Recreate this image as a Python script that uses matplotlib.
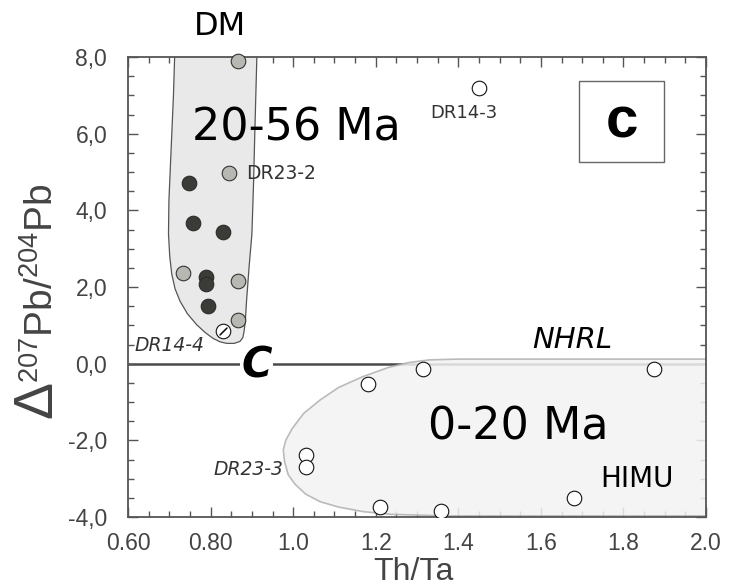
import matplotlib
matplotlib.use('Agg')
import matplotlib.pyplot as plt
from matplotlib.patches import Polygon, Rectangle
from matplotlib.ticker import MultipleLocator, FixedLocator

plt.rcParams['font.family'] = ['Liberation Sans', 'DejaVu Sans']
plt.rcParams['mathtext.fontset'] = 'custom'
plt.rcParams['mathtext.rm'] = 'Liberation Sans'
plt.rcParams['mathtext.it'] = 'Liberation Sans:italic'

# samples 20-56 Ma (dark filled and grey filled)
dark_x = [0.748, 0.758, 0.831, 0.789, 0.789, 0.793]
dark_y = [4.71, 3.66, 3.44, 2.26, 2.08, 1.51]
gray_x = [0.866, 0.845, 0.732, 0.866, 0.866]
gray_y = [7.9, 4.97, 2.37, 2.15, 1.15]
# DR14-4 (open with slash)
dr144_x = [0.829]
dr144_y = [0.84]
# samples 0-20 Ma (open)
open_x = [1.45, 1.315, 1.875, 1.18, 1.03, 1.03, 1.21, 1.357, 1.681]
open_y = [7.2, -0.14, -0.14, -0.53, -2.38, -2.7, -3.74, -3.85, -3.51]

# field outlines
dm_x = [0.714, 0.710, 0.706, 0.702, 0.699, 0.698, 0.701, 0.706, 0.714, 0.726, 0.744,
        0.766, 0.786, 0.806, 0.823, 0.839, 0.857, 0.871, 0.878, 0.881, 0.884, 0.887,
        0.893, 0.900, 0.904, 0.907, 0.913]
dm_y = [8.4, 7.0, 6.0, 5.0, 4.25, 3.38, 2.8, 2.33, 1.95, 1.63, 1.3,
        1.02, 0.82, 0.66, 0.57, 0.53, 0.53, 0.58, 0.68, 0.84, 1.1, 1.63,
        2.5, 3.38, 4.7, 6.0, 8.4]
young_x = [2.05, 1.40, 1.33, 1.28, 1.23, 1.168, 1.11, 1.066, 1.025, 0.997, 0.982,
           0.976, 0.979, 0.988, 1.005, 1.03, 1.065, 1.11, 1.17, 1.237, 1.366, 2.05]
young_y = [0.12, 0.12, 0.1, 0.03, -0.1, -0.34, -0.62, -0.94, -1.3, -1.7, -2.0,
           -2.25, -2.55, -2.9, -3.15, -3.4, -3.6, -3.74, -3.86, -3.93, -3.97, -3.97]

nhrl_x = [0.6, 2.0]
nhrl_y = [0.0, 0.0]

xticks = [0.6, 0.8, 1.0, 1.2, 1.4, 1.6, 1.8, 2.0]
xticklabels = ['0.60', '0.80', '1.0', '1.2', '1.4', '1.6', '1.8', '2.0']
yticks = [-4, -2, 0, 2, 4, 6, 8]
yticklabels = ['-4,0', '-2,0', '0,0', '2,0', '4,0', '6,0', '8,0']

fig = plt.figure(figsize=(7.47, 5.88), dpi=100)
ax = fig.add_axes([0.1714, 0.1207, 0.7738, 0.7823])

txt = '#444444'
ax.plot(nhrl_x, nhrl_y, color='#4a4a4a', lw=1.8, zorder=1)

ax.add_patch(Polygon(list(zip(young_x, young_y)), closed=True, facecolor='#f3f3f3',
                     edgecolor='#b0b0b0', lw=1.2, alpha=0.85, zorder=2, joinstyle='round'))
ax.add_patch(Polygon(list(zip(dm_x, dm_y)), closed=True, facecolor='#e9e9e9',
                     edgecolor='#555555', lw=0.9, zorder=2, joinstyle='round'))

ms = 110
ax.scatter(dark_x, dark_y, s=ms, c='#3b3b37', edgecolors='#2a2a2a', lw=0.8, zorder=4)
ax.scatter(gray_x, gray_y, s=ms, c='#b8b8b3', edgecolors='#333333', lw=0.8, zorder=4, clip_on=False)
ax.scatter(open_x, open_y, s=ms, c='white', edgecolors='#111111', lw=0.8, zorder=4)
ax.scatter(dr144_x, dr144_y, s=ms, c='white', edgecolors='#111111', lw=0.8, zorder=4)
ax.scatter(dr144_x, dr144_y, s=50, marker=(2, 2, -45), c='#111111', lw=0.8, zorder=5)

ax.set_xlim(0.6, 2.0)
ax.set_ylim(-4, 8)
ax.xaxis.set_major_locator(FixedLocator(xticks))
ax.set_xticklabels(xticklabels)
ax.xaxis.set_minor_locator(MultipleLocator(0.05))
ax.yaxis.set_major_locator(FixedLocator(yticks))
ax.set_yticklabels(yticklabels)
ax.yaxis.set_minor_locator(MultipleLocator(0.5))
ax.tick_params(which='both', direction='in', top=True, right=True, color='#555555',
               labelsize=16.5, labelcolor=txt, width=1)
ax.tick_params(which='major', length=7)
ax.tick_params(which='minor', length=4)
ax.tick_params(axis='y', which='major', pad=15)
ax.tick_params(axis='x', which='major', pad=11)
for s in ax.spines.values():
    s.set_color('#555555')
    s.set_linewidth(1.3)

ax.set_xlabel('Th/Ta', fontsize=23, color=txt, va='top')
ax.xaxis.set_label_coords(0.493, -0.087)
# y label: large delta followed by the isotope ratio
ax.text(-0.1298, 0.2109, r'$\Delta$', transform=ax.transAxes, rotation=90,
        rotation_mode='anchor', ha='left', va='baseline', fontsize=40, color=txt)
ax.text(-0.1298, 0.2913, r'$^{207}$Pb/$^{204}$Pb', transform=ax.transAxes, rotation=90,
        rotation_mode='anchor', ha='left', va='baseline', fontsize=28, color=txt)

hand = 'DejaVu Sans'
ax.text(0.823, 8.79, 'DM', fontsize=23, family=hand, ha='center', va='center', clip_on=False)
ax.text(1.007, 6.14, '20-56 Ma', fontsize=32, family=hand, ha='center', va='center', zorder=6)
ax.text(1.545, -1.65, '0-20 Ma', fontsize=32, family=hand, ha='center', va='center', zorder=6)
ax.text(1.833, -3.0, 'HIMU', fontsize=20, family=hand, ha='center', va='center', zorder=6)
ax.text(1.675, 0.63, 'NHRL', fontsize=21, family=hand, style='italic', ha='center', va='center')
ax.text(1.414, 6.53, 'DR14-3', fontsize=13, family=hand, color='#333333', ha='center', va='center')
ax.text(0.885, 4.97, 'DR23-2', fontsize=13.5, family=hand, color='#333333', ha='left', va='center', zorder=6)
ax.text(0.70, 0.47, 'DR14-4', fontsize=13.5, family=hand, color='#333333', style='italic',
        ha='center', va='center')
ax.text(0.976, -2.77, 'DR23-3', fontsize=13.5, family=hand, color='#333333', style='italic',
        ha='right', va='center', zorder=6)
ax.text(0.912, -0.05, 'C', fontsize=30, family=hand, weight='bold', style='italic',
        ha='center', va='center', zorder=6,
        bbox=dict(facecolor='white', edgecolor='none', pad=1))

ax.add_patch(Rectangle((1.693, 5.26), 0.206, 2.12, facecolor='white', edgecolor='#666666',
                       lw=1, zorder=3))
ax.text(1.797, 6.28, 'c', fontsize=42, weight='bold', family='Liberation Sans',
        ha='center', va='center', zorder=6)

fig.savefig('out.png', dpi=100)
